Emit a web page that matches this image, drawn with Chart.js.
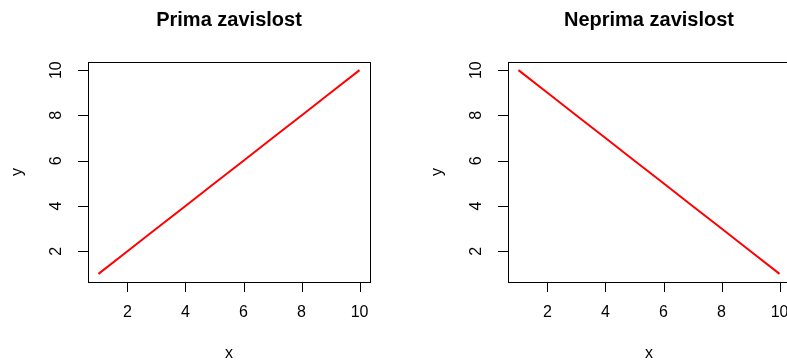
<!DOCTYPE html>
<html>
<head>
<meta charset="utf-8">
<script src="https://cdn.jsdelivr.net/npm/chart.js"></script>
<style>
    html, body { margin: 0; padding: 0; background: #fff; overflow: hidden; }
    #wrap { position: relative; width: 787px; height: 360px; overflow: hidden; }
    .panel { position: absolute; top: 0; width: 420px; height: 360px; }
</style>
</head>
<body>
<div id="wrap">
    <div class="panel" style="left:0"><canvas id="prima" width="420" height="360"></canvas></div>
    <div class="panel" style="left:420px"><canvas id="neprima" width="420" height="360"></canvas></div>
</div>
<script>
// data
const xValues = [1, 2, 3, 4, 5, 6, 7, 8, 9, 10];
const primaY = [1, 2, 3, 4, 5, 6, 7, 8, 9, 10];
const neprimaY = [10, 9, 8, 7, 6, 5, 4, 3, 2, 1];
const xTicks = [2, 4, 6, 8, 10];
const yTicks = [2, 4, 6, 8, 10];
const titles = ['Prima zavislost', 'Neprima zavislost'];

const FONT = '"Liberation Sans", Arial, sans-serif';

// R style box + axes, drawn by hand on top of the chart area
const rAxes = {
    id: 'rAxes',
    afterDraw(chart, args, opts) {
        const ctx = chart.ctx;
        const area = chart.chartArea;
        const xs = chart.scales.x, ys = chart.scales.y;
        ctx.save();
        ctx.strokeStyle = '#000';
        ctx.lineWidth = 1;
        ctx.strokeRect(area.left + 0.5, area.top + 0.5, area.right - area.left, area.bottom - area.top);

        // x axis
        ctx.fillStyle = '#000';
        ctx.font = '16px ' + FONT;
        ctx.textAlign = 'center';
        ctx.textBaseline = 'middle';
        ctx.beginPath();
        xTicks.forEach(v => {
            const px = Math.round(xs.getPixelForValue(v)) + 0.5;
            ctx.moveTo(px, area.bottom);
            ctx.lineTo(px, area.bottom + 10);
        });
        ctx.stroke();
        xTicks.forEach(v => {
            ctx.fillText(String(v), xs.getPixelForValue(v), area.bottom + 31);
        });

        // y axis
        ctx.beginPath();
        yTicks.forEach(v => {
            const py = Math.round(ys.getPixelForValue(v)) + 0.5;
            ctx.moveTo(area.left, py);
            ctx.lineTo(area.left - 10, py);
        });
        ctx.stroke();
        yTicks.forEach(v => {
            ctx.save();
            ctx.translate(area.left - 31, ys.getPixelForValue(v));
            ctx.rotate(-Math.PI / 2);
            ctx.fillText(String(v), 0, 0);
            ctx.restore();
        });

        // axis titles
        ctx.fillText('x', (area.left + area.right) / 2, 354);
        ctx.save();
        ctx.translate(18, (area.top + area.bottom) / 2);
        ctx.rotate(-Math.PI / 2);
        ctx.fillText('y', 0, 0);
        ctx.restore();

        // main title
        ctx.font = 'bold 20px ' + FONT;
        ctx.fillText(opts.text, (area.left + area.right) / 2, 20);
        ctx.restore();
    }
};

function makePanel(id, yValues, title) {
    new Chart(document.getElementById(id), {
        type: 'scatter',
        data: {
            datasets: [{
                data: xValues.map((x, i) => ({ x: x, y: yValues[i] })),
                showLine: true,
                borderColor: '#ff0000',
                borderWidth: 2,
                pointRadius: 0,
                tension: 0
            }]
        },
        options: {
            responsive: false,
            animation: false,
            devicePixelRatio: 1,
            layout: { padding: { left: 88, top: 62, right: 50, bottom: 78 } },
            scales: {
                x: { type: 'linear', display: false, min: 0.64, max: 10.36 },
                y: { type: 'linear', display: false, min: 0.64, max: 10.36 }
            },
            plugins: {
                legend: { display: false },
                tooltip: { enabled: false },
                rAxes: { text: title }
            }
        },
        plugins: [rAxes]
    });
}

makePanel('prima', primaY, titles[0]);
makePanel('neprima', neprimaY, titles[1]);
</script>
</body>
</html>
